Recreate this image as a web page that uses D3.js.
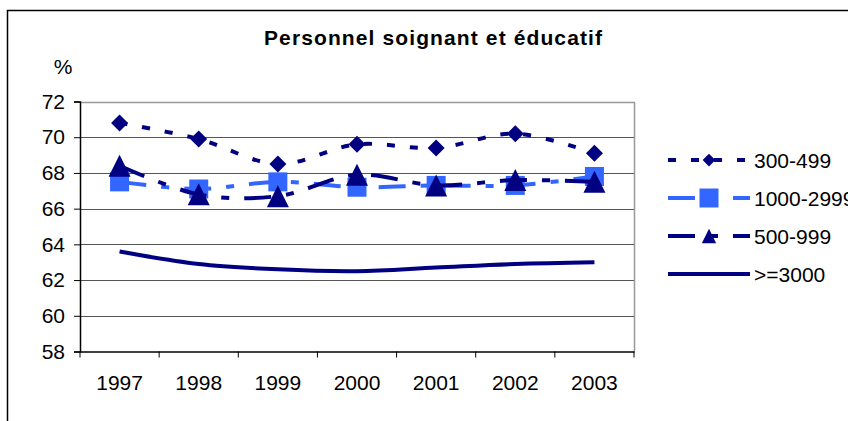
<!DOCTYPE html>
<html>
<head>
<meta charset="utf-8">
<script src="https://cdn.jsdelivr.net/npm/d3@7"></script>
<style>
  body { margin: 0; background: #fff; }
  svg { display: block; font-family: "Liberation Sans", Arial, sans-serif; }
</style>
</head>
<body>
<svg id="chart" width="848" height="421"></svg>
<script>
// data
var years = ["1997", "1998", "1999", "2000", "2001", "2002", "2003"];
var yTicks = [58, 60, 62, 64, 66, 68, 70, 72];
var s300 = [70.8, 69.9, 68.5, 69.6, 69.4, 70.2, 69.1];
var s1000 = [67.5, 67.1, 67.5, 67.2, 67.3, 67.3, 67.8];
var s500 = [68.4, 66.8, 66.7, 67.9, 67.3, 67.6, 67.5];
var s3000 = [63.6, 62.9, 62.6, 62.5, 62.7, 62.9, 63.0];

var series = [
  {name: ">=3000", values: s3000, color: "#000080", dash: null, marker: null},
  {name: "1000-2999", values: s1000, color: "#3366ff", dash: "27 15 8 15", marker: "square"},
  {name: "500-999", values: s500, color: "#000080", dash: "27 15 8 15", marker: "triangle"},
  {name: "300-499", values: s300, color: "#000080", dash: "8 15", marker: "diamond"}
];
var legendOrder = ["300-499", "1000-2999", "500-999", ">=3000"];
var fs = 21;

var svg = d3.select("#chart");

// outer frame (runs off the right and bottom)
svg.append("path")
  .attr("d", "M7.5,430V10.5H860")
  .attr("fill", "none").attr("stroke", "#000").attr("stroke-width", 1.5);

var x = d3.scaleBand().domain(years).range([80, 634]);
var y = d3.scaleLinear().domain([58, 72]).range([351.5, 101.5]);

// title
svg.append("text")
  .attr("x", 264).attr("y", 45)
  .attr("textLength", 338).attr("lengthAdjust", "spacing")
  .attr("font-size", 21).attr("font-weight", "bold")
  .text("Personnel soignant et éducatif");

svg.append("text")
  .attr("x", 63).attr("y", 74).attr("text-anchor", "middle")
  .attr("font-size", fs)
  .text("%");

// gridlines
svg.append("g").selectAll("line").data(yTicks.slice(1, -1)).enter()
  .append("line")
  .attr("x1", 80).attr("x2", 634)
  .attr("y1", function(d){ return Math.round(y(d)) + 0.5; })
  .attr("y2", function(d){ return Math.round(y(d)) + 0.5; })
  .attr("stroke", "#555").attr("stroke-width", 1);

// plot frame top/right
svg.append("path")
  .attr("d", "M80," + (Math.round(y(72)) + 0.5) + "H634.5V" + y(58))
  .attr("fill", "none").attr("stroke", "#999").attr("stroke-width", 1.5);

// axes
var yAxis = svg.append("g")
  .attr("transform", "translate(80,0)")
  .call(d3.axisLeft(y).tickValues(yTicks).tickSize(6).tickPadding(9).tickFormat(d3.format("d")));
var xAxis = svg.append("g")
  .attr("transform", "translate(0," + y(58) + ")")
  .call(d3.axisBottom(x).tickSize(0).tickPadding(24));

[yAxis, xAxis].forEach(function(g){
  g.select(".domain").attr("stroke", "#000").attr("stroke-width", 1.5);
  g.selectAll(".tick text").attr("font-size", fs).attr("fill", "#000")
    .attr("font-family", "Liberation Sans, Arial, sans-serif");
  g.selectAll(".tick line").attr("stroke", "#000");
});

// category separator ticks on x axis
var bounds = years.map(function(d){ return x(d); }).concat([x.range()[1]]);
svg.append("g").selectAll("line").data(bounds).enter()
  .append("line")
  .attr("x1", function(d){ return d; }).attr("x2", function(d){ return d; })
  .attr("y1", y(58)).attr("y2", y(58) + 6)
  .attr("stroke", "#000").attr("stroke-width", 1);

function markerPath(type) {
  if (type === "square") return "M-9.5,-9.5H9.5V9.5H-9.5Z";
  if (type === "triangle") return "M0,-11L11,11H-11Z";
  if (type === "diamond") return "M0,-8.5L8.5,0L0,8.5L-8.5,0Z";
  return null;
}

var line = d3.line()
  .x(function(d, i){ return x(years[i]) + x.bandwidth() / 2; })
  .y(function(d){ return y(d); })
  .curve(d3.curveCatmullRom);

series.forEach(function(s){
  svg.append("path")
    .datum(s.values)
    .attr("d", line)
    .attr("fill", "none")
    .attr("stroke", s.color)
    .attr("stroke-width", 4)
    .attr("stroke-dasharray", s.dash);
  if (s.marker) {
    svg.append("g").selectAll("path").data(s.values).enter()
      .append("path")
      .attr("d", markerPath(s.marker))
      .attr("transform", function(d, i){
        return "translate(" + (x(years[i]) + x.bandwidth() / 2) + "," + y(d) + ")";
      })
      .attr("fill", s.color);
  }
});

// legend
var legend = svg.append("g");
legendOrder.forEach(function(name, i){
  var s = series.filter(function(d){ return d.name === name; })[0];
  var ly = 160 + i * 38;
  legend.append("line")
    .attr("x1", 668).attr("x2", 750).attr("y1", ly).attr("y2", ly)
    .attr("stroke", s.color).attr("stroke-width", 4)
    .attr("stroke-dasharray", s.dash);
  if (s.marker) {
    legend.append("path")
      .attr("d", markerPath(s.marker))
      .attr("transform", "translate(709," + ly + ")" + (s.marker === "triangle" ? " scale(0.65)" : s.marker === "diamond" ? " scale(0.75)" : ""))
      .attr("fill", s.color);
  }
  legend.append("text")
    .attr("x", 754).attr("y", ly + 7.5)
    .attr("font-size", fs)
    .text(name);
});
</script>
</body>
</html>
